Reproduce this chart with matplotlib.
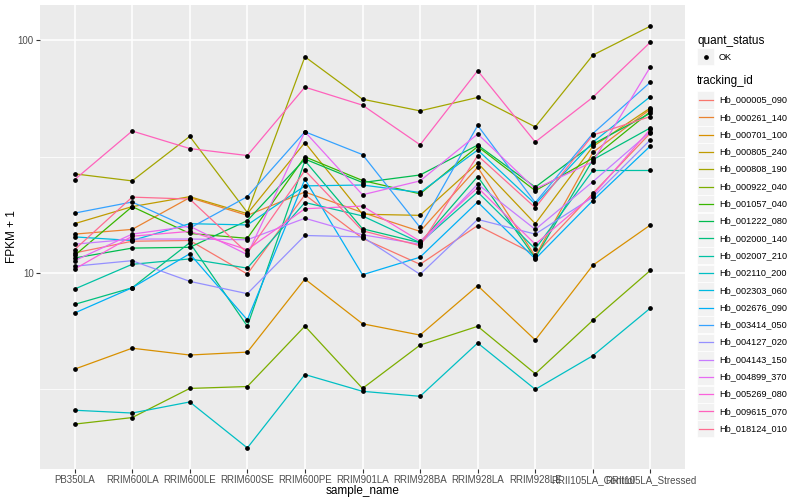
import numpy as np
import matplotlib
matplotlib.use("Agg")
import matplotlib.pyplot as plt
from matplotlib.ticker import FixedLocator, NullFormatter
from matplotlib.patches import Rectangle
from matplotlib.lines import Line2D

plt.rcParams['font.family'] = ['Liberation Sans', 'DejaVu Sans']

samples = ["PB350LA", "RRIM600LA", "RRIM600LE", "RRIM600SE", "RRIM600PE",
           "RRIM901LA", "RRIM928BA", "RRIM928LA", "RRIM928LE",
           "RRII105LA_Control", "RRII105LA_Stressed"]

tracking_ids = ["Hb_000005_090", "Hb_000261_140", "Hb_000701_100", "Hb_000805_240",
                "Hb_000808_190", "Hb_000922_040", "Hb_001057_040", "Hb_001222_080",
                "Hb_002000_140", "Hb_002007_210", "Hb_002110_200", "Hb_002303_060",
                "Hb_002676_090", "Hb_003414_050", "Hb_004127_020", "Hb_004143_150",
                "Hb_004899_370", "Hb_005269_080", "Hb_009615_070", "Hb_018124_010"]

hue_colors = ["#F8766D", "#EA8331", "#D89000", "#C09B00", "#A3A500", "#7CAE00",
              "#39B600", "#00BB4E", "#00BF7D", "#00C1A3", "#00BFC4", "#00BAE0",
              "#00B0F6", "#35A2FF", "#9590FF", "#C77CFF", "#E76BF3", "#FA62DB",
              "#FF62BC", "#FF6C91"]

# FPKM + 1 per sample (order of `samples`)
hb_000005_090 = [12.2, 13.7, 13.8, 9.9, 21.7, 14.1, 10.9, 16.0, 12.0, 22.0, 40.0]
hb_000261_140 = [14.7, 15.4, 21.1, 17.7, 22.3, 18.2, 15.1, 28.5, 11.8, 33.0, 50.7]
hb_000701_100 = [3.86, 4.75, 4.44, 4.57, 9.42, 6.05, 5.41, 8.82, 5.15, 10.8, 16.1]
hb_000805_240 = [16.3, 19.3, 21.3, 18.0, 36.4, 17.9, 17.7, 29.7, 16.3, 35.0, 51.3]
hb_000808_190 = [26.7, 24.9, 38.7, 18.2, 85.1, 55.9, 49.8, 56.9, 42.5, 86.5, 115.3]
hb_000922_040 = [2.24, 2.39, 3.19, 3.25, 5.91, 3.19, 4.90, 5.90, 3.69, 6.26, 10.27]
hb_001057_040 = [11.9, 19.3, 14.8, 14.1, 31.6, 25.0, 21.9, 35.0, 22.6, 31.2, 49.5]
hb_001222_080 = [11.6, 12.8, 12.9, 16.8, 30.9, 24.5, 26.4, 35.5, 23.4, 35.8, 48.7]
hb_002000_140 = [7.33, 8.64, 13.5, 5.91, 30.4, 15.5, 13.5, 26.0, 11.6, 30.7, 42.1]
hb_002007_210 = [8.53, 10.9, 11.5, 10.5, 20.1, 17.6, 13.5, 22.3, 12.7, 27.6, 27.6]
hb_002110_200 = [2.57, 2.50, 2.79, 1.77, 3.66, 3.10, 2.95, 5.00, 3.16, 4.41, 7.07]
hb_002303_060 = [14.3, 13.8, 16.3, 16.1, 23.7, 23.9, 22.2, 33.8, 19.8, 36.5, 57.4]
hb_002676_090 = [6.73, 8.64, 12.1, 6.29, 25.3, 9.83, 11.7, 20.2, 11.5, 20.5, 35.2]
hb_003414_050 = [18.1, 20.2, 15.6, 21.3, 40.5, 32.3, 15.7, 43.1, 20.1, 39.8, 66.2]
hb_004127_020 = [10.7, 11.3, 9.21, 8.15, 14.5, 14.3, 9.87, 17.0, 14.7, 21.2, 37.4]
hb_004143_150 = [13.3, 14.0, 14.0, 13.9, 17.2, 14.6, 13.3, 24.1, 15.4, 24.7, 40.5]
hb_004899_370 = [11.3, 14.7, 15.9, 12.0, 40.5, 21.7, 24.9, 39.6, 23.0, 30.1, 77.1]
hb_005269_080 = [10.4, 14.4, 15.1, 12.6, 18.9, 19.4, 13.7, 23.3, 13.3, 21.6, 41.6]
hb_009615_070 = [25.2, 40.8, 34.3, 32.0, 63.0, 52.7, 35.6, 74.1, 36.6, 57.0, 98.4]
hb_018124_010 = [12.6, 21.2, 20.8, 12.2, 27.6, 15.2, 13.1, 32.0, 19.1, 39.2, 47.1]

series = [hb_000005_090, hb_000261_140, hb_000701_100, hb_000805_240, hb_000808_190,
          hb_000922_040, hb_001057_040, hb_001222_080, hb_002000_140, hb_002007_210,
          hb_002110_200, hb_002303_060, hb_002676_090, hb_003414_050, hb_004127_020,
          hb_004143_150, hb_004899_370, hb_005269_080, hb_009615_070, hb_018124_010]

W, H = 800, 500
fig = plt.figure(figsize=(8, 5), dpi=100)
fig.patch.set_facecolor("white")
ax = fig.add_axes([40 / W, 1 - 469 / H, (685 - 40) / W, (469 - 5) / H])
ax.set_facecolor("#EBEBEB")

x = np.arange(len(samples))
for vals, col in zip(series, hue_colors):
    ax.plot(x, vals, color=col, lw=0.9, zorder=3, solid_capstyle="butt")
for vals in series:
    ax.plot(x, vals, ls="none", marker="o", ms=2.4, color="black", zorder=4)

ax.set_yscale("log")
allv = np.concatenate([np.asarray(s, float) for s in series])
lo, hi = np.log10(allv.min()), np.log10(allv.max())
pad = (hi - lo) * 0.05
ax.set_ylim(10 ** (lo - pad), 10 ** (hi + pad))
ax.set_xlim(-0.6, len(samples) - 1 + 0.6)

ax.yaxis.set_major_locator(FixedLocator([10, 100]))
ax.set_yticklabels(["10", "100"])
ax.yaxis.set_minor_locator(FixedLocator([10 ** 0.5, 10 ** 1.5]))
ax.yaxis.set_minor_formatter(NullFormatter())
ax.set_xticks(x)
ax.set_xticklabels(samples)

ax.grid(True, which="major", color="white", lw=1.1, zorder=1)
ax.grid(True, which="minor", axis="y", color="white", lw=0.55, zorder=1)
ax.set_axisbelow(True)
for s in ax.spines.values():
    s.set_visible(False)
ax.tick_params(axis="both", which="major", length=3, width=0.8, color="#333333",
               labelcolor="#4D4D4D", labelsize=7, pad=1.5)
ax.tick_params(axis="y", which="minor", length=0)

ax.set_xlabel("sample_name", fontsize=8.5, color="black")
ax.xaxis.set_label_coords(0.5, -(491 - 469) / (469 - 5), transform=ax.transAxes)
ax.xaxis.label.set_va("center")
ax.set_ylabel("FPKM + 1", fontsize=8.5, color="black")
ax.yaxis.set_label_coords(-(40 - 12) / 645, 0.5)
ax.yaxis.label.set_va("center")

# ---- legend (drawn manually, ggplot style) ----
def fx(px):
    return px / W

def fy(py):
    return 1 - py / H

fig.text(fx(697), fy(41), "quant_status", fontsize=8.5, va="center", ha="left")
fig.patches.append(Rectangle((fx(697), fy(65)), 17 / W, 17 / H, transform=fig.transFigure,
                             facecolor="#F2F2F2", edgecolor="white", lw=0.5))
fig.lines.append(Line2D([fx(705.5)], [fy(56.5)], transform=fig.transFigure, marker="o",
                        ms=2.4, color="black", ls="none"))
fig.text(fx(719), fy(57), "OK", fontsize=6.6, va="center", ha="left")

fig.text(fx(697), fy(81), "tracking_id", fontsize=8.5, va="center", ha="left")
y0, dy = 100.0, 17.3
for i, (tid, col) in enumerate(zip(tracking_ids, hue_colors)):
    yc = y0 + i * dy
    fig.patches.append(Rectangle((fx(697), fy(yc + 8.5)), 17 / W, 17 / H,
                                 transform=fig.transFigure, facecolor="#F2F2F2",
                                 edgecolor="white", lw=0.5))
    fig.lines.append(Line2D([fx(698.5), fx(712.5)], [fy(yc), fy(yc)],
                            transform=fig.transFigure, color=col, lw=0.9))
    fig.text(fx(719), fy(yc), tid, fontsize=6.6, va="center", ha="left")

fig.savefig("out.png", dpi=100)
